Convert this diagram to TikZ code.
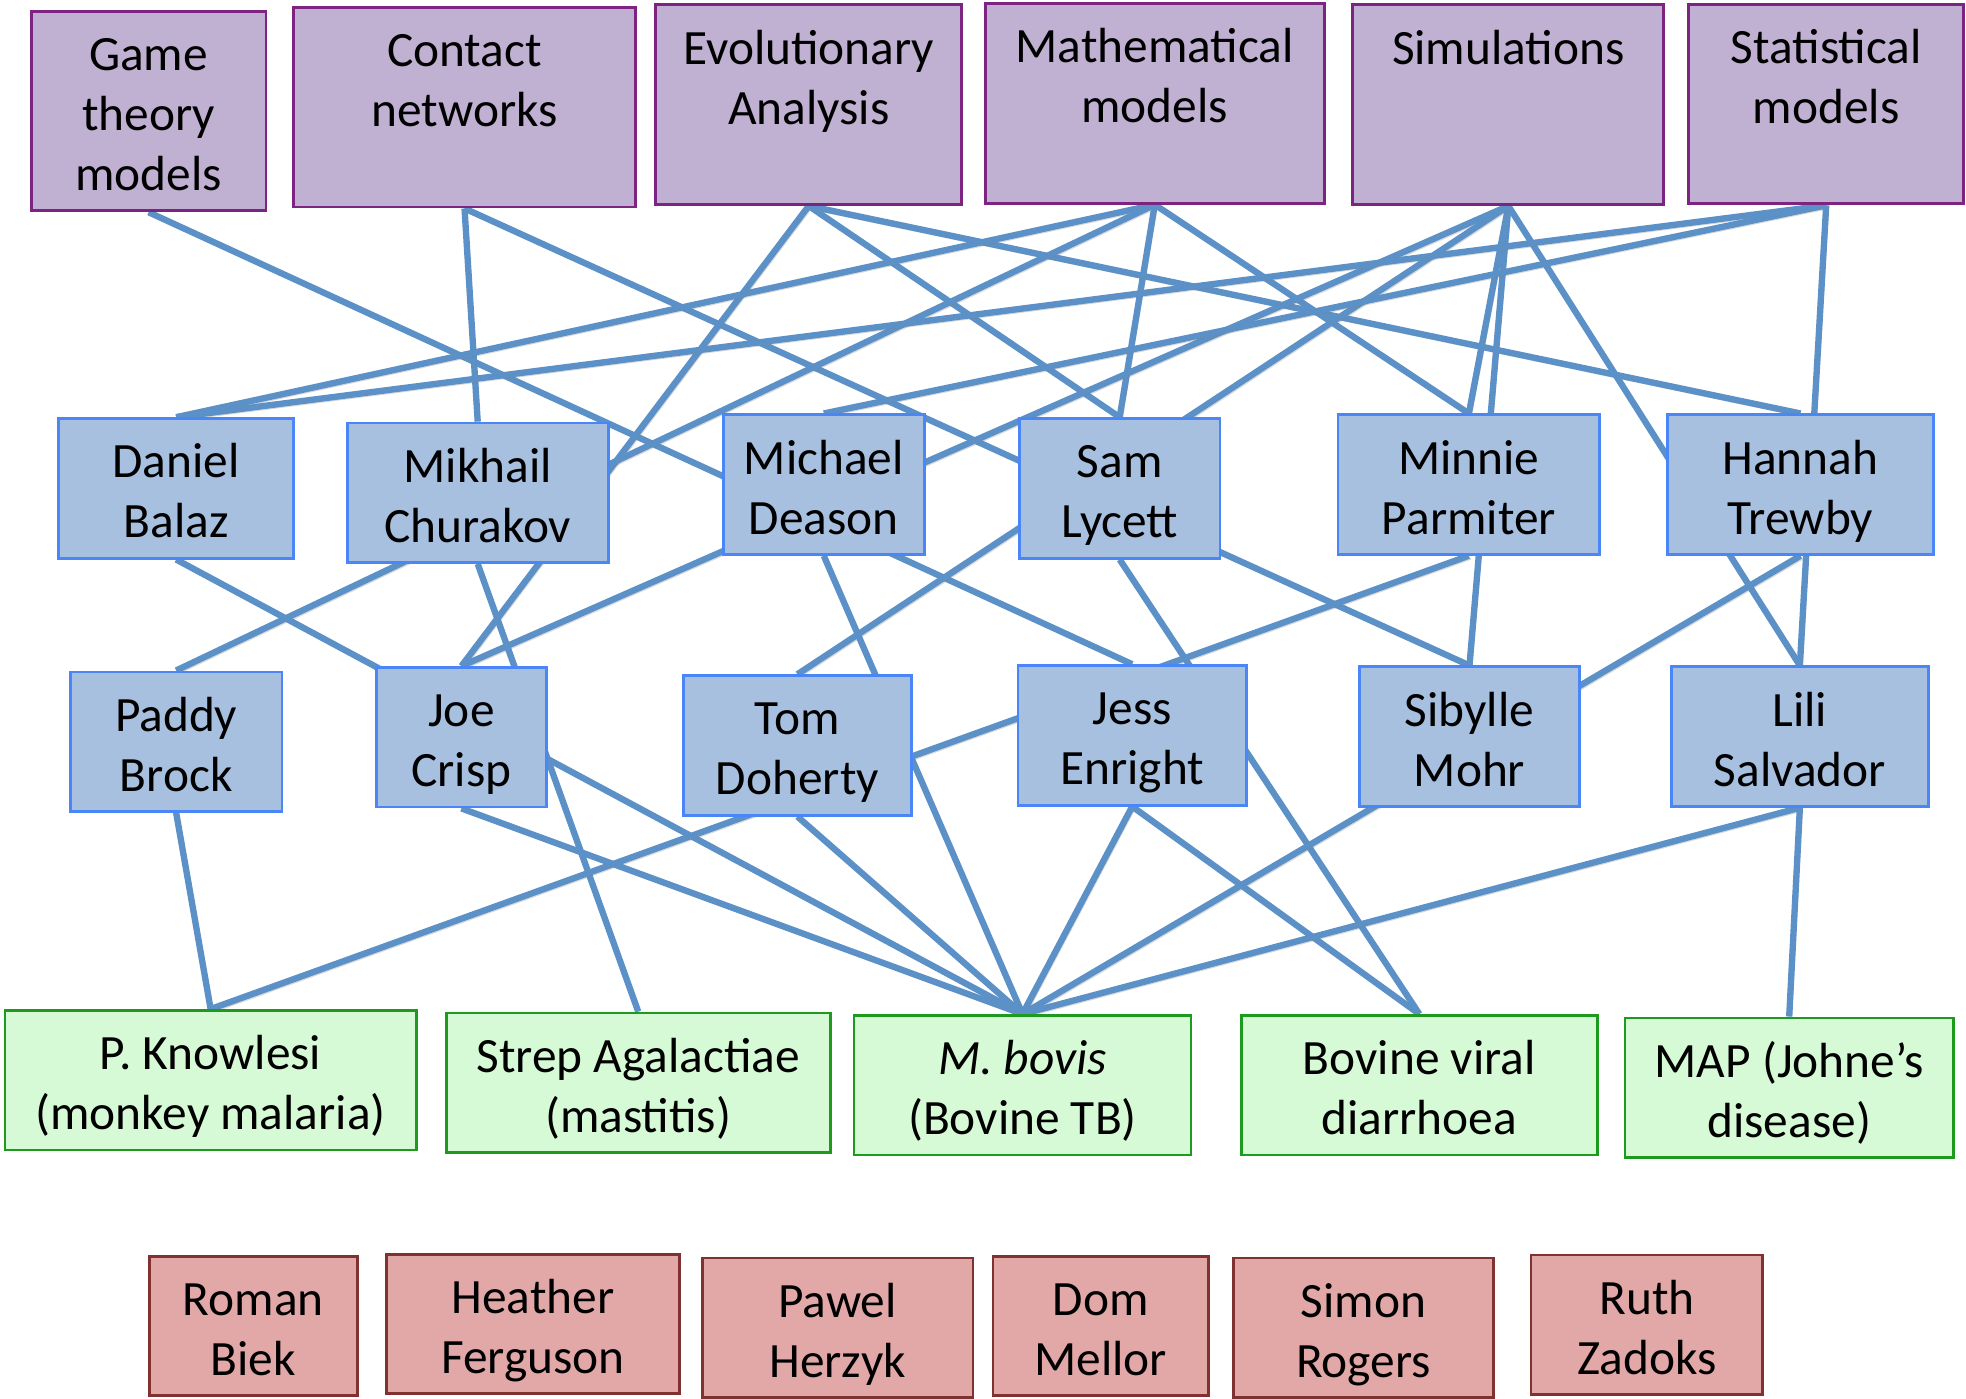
\documentclass[tikz,border=0pt]{standalone}
\usepackage{fontspec}
\setmainfont{Carlito}
\usepackage{tikz}
\usetikzlibrary{backgrounds}
\definecolor{methfill}{RGB}{192,176,210}
\definecolor{methline}{RGB}{125,35,130}
\definecolor{persfill}{RGB}{167,192,223}
\definecolor{persline}{RGB}{74,134,245}
\definecolor{disfill}{RGB}{213,250,213}
\definecolor{disline}{RGB}{30,155,30}
\definecolor{othfill}{RGB}{226,168,167}
\definecolor{othline}{RGB}{128,50,48}
\definecolor{linkblue}{RGB}{92,145,200}
\newcommand{\stacked}[1]{\begin{tabular}[t]{@{}c@{}}#1\end{tabular}}
\tikzstyle{box} = [rectangle, line width=0.8pt, inner sep=0pt, text height=0.59cm, font=\fontsize{14pt}{17pt}\selectfont]
\tikzstyle{method} = [box, draw=methline, fill=methfill, text depth=1.40cm]
\tikzstyle{person} = [box, draw=persline, fill=persfill, text depth=0.80cm]
\tikzstyle{disease} = [box, draw=disline, fill=disfill, text depth=0.80cm]
\tikzstyle{other} = [box, draw=othline, fill=othfill, text depth=0.80cm]
\tikzstyle{link} = [draw=linkblue, line width=1.8pt, preaction={draw=black!50, opacity=0.3, transform canvas={xshift=0.6pt, yshift=-0.9pt}}]

\begin{document}
\begin{tikzpicture}[x=0.0125cm, y=-0.0125cm]
\useasboundingbox (0,0) rectangle (1568,1115);
% methods
\node [method, minimum width=2.34cm] (game) at (118.5,88.5) {\stacked{Game\\theory\\models}};
\node [method, minimum width=3.41cm] (contact) at (370.5,85.5) {\stacked{Contact\\networks}};
\node [method, minimum width=3.05cm] (evol) at (645,83.5) {\stacked{Evolutionary\\Analysis}};
\node [method, minimum width=3.375cm] (math) at (921,82.5) {\stacked{Mathematical\\models}};
\node [method, minimum width=3.1cm] (sim) at (1203,83.5) {\stacked{Simulations}};
\node [method, minimum width=2.74cm] (stat) at (1456.5,83) {\stacked{Statistical\\models}};
% people
\node [person, minimum width=2.34cm] (daniel) at (140.5,389.5) {\stacked{Daniel\\Balaz}};
\node [person, minimum width=2.6cm] (mikhail) at (381,393) {\stacked{Mikhail\\Churakov}};
\node [person, minimum width=2.0cm] (michael) at (657,386.5) {\stacked{Michael\\Deason}};
\node [person, minimum width=2.0cm] (sam) at (893,389.5) {\stacked{Sam\\Lycett}};
\node [person, minimum width=2.61cm] (minnie) at (1171.5,386.5) {\stacked{Minnie\\Parmiter}};
\node [person, minimum width=2.65cm] (hannah) at (1436,386.5) {\stacked{Hannah\\Trewby}};
\node [person, minimum width=2.11cm] (paddy) at (140.5,591.5) {\stacked{Paddy\\Brock}};
\node [person, minimum width=1.7cm] (joe) at (368,588) {\stacked{Joe\\Crisp}};
\node [person, minimum width=2.275cm] (tom) at (636,594.5) {\stacked{Tom\\Doherty}};
\node [person, minimum width=2.275cm] (jess) at (903,586.5) {\stacked{Jess\\Enright}};
\node [person, minimum width=2.2cm] (sibylle) at (1172,587.5) {\stacked{Sibylle\\Mohr}};
\node [person, minimum width=2.56cm] (lili) at (1435.5,587.5) {\stacked{Lili\\Salvador}};
% diseases
\node [disease, minimum width=4.1cm] (knowlesi) at (168,861.5) {\stacked{P. Knowlesi\\(monkey malaria)}};
\node [disease, minimum width=3.825cm] (strep) at (509,863.5) {\stacked{Strep Agalactiae\\(mastitis)}};
\node [disease, minimum width=3.36cm] (mbovis) at (815.5,865.5) {\stacked{\textit{M. bovis}\\(Bovine TB)}};
\node [disease, minimum width=3.55cm] (bvd) at (1132,865.5) {\stacked{Bovine viral\\diarrhoea}};
\node [disease, minimum width=3.275cm] (map) at (1427,867.5) {\stacked{MAP (Johne's\\disease)}};
% others
\node [other, minimum width=2.075cm] (roman) at (202,1057.5) {\stacked{Roman\\Biek}};
\node [other, minimum width=2.925cm] (heather) at (425,1056) {\stacked{Heather\\Ferguson}};
\node [other, minimum width=2.7cm] (pawel) at (668,1059) {\stacked{Pawel\\Herzyk}};
\node [other, minimum width=2.15cm] (dom) at (878,1057.5) {\stacked{Dom\\Mellor}};
\node [other, minimum width=2.59cm] (simon) at (1087.5,1059) {\stacked{Simon\\Rogers}};
\node [other, minimum width=2.31cm] (ruth) at (1313.5,1056.5) {\stacked{Ruth\\Zadoks}};
\begin{scope}[on background layer]
\foreach \from/\to in {game/jess, contact/mikhail, contact/sibylle, evol/joe, evol/sam, evol/hannah,
  math/daniel, math/paddy, math/sam, math/minnie, sim/minnie, sim/sibylle, sim/joe, sim/tom, sim/lili,
  stat/daniel, stat/michael, stat/lili, daniel/mbovis, mikhail/strep, michael/mbovis, sam/bvd,
  minnie/knowlesi, hannah/mbovis, paddy/knowlesi, joe/mbovis, tom/mbovis, jess/mbovis, jess/bvd,
  lili/mbovis, lili/map}
  \draw [link] (\from.south) -- (\to.north);
\end{scope}
\end{tikzpicture}
\end{document}
